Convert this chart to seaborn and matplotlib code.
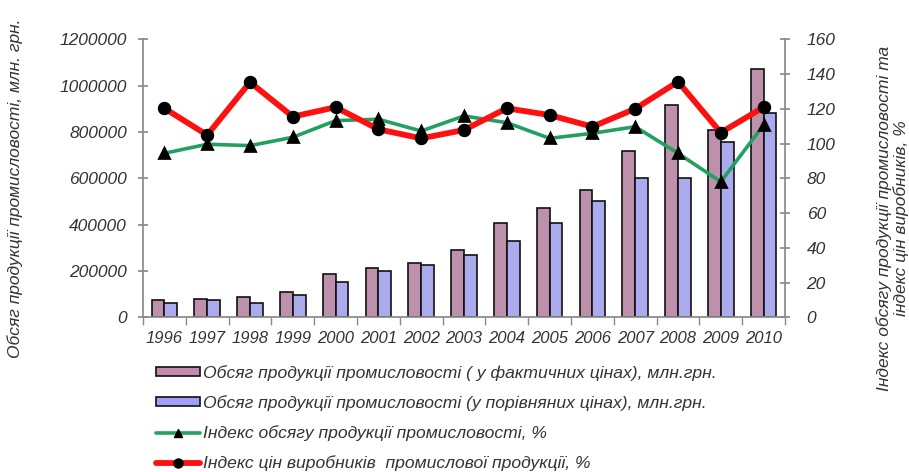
import matplotlib
matplotlib.use("Agg")
import matplotlib.pyplot as plt
import seaborn as sns
import pandas as pd
import numpy as np
from matplotlib.patches import Patch
from matplotlib.lines import Line2D

years = ["1996", "1997", "1998", "1999", "2000", "2001", "2002", "2003",
         "2004", "2005", "2006", "2007", "2008", "2009", "2010"]
output_actual = [74700, 80800, 87700, 111000, 185700, 214600, 236000, 290500,
                 405700, 470500, 549500, 718000, 916400, 808500, 1070500]
output_comparable = [63500, 74700, 63500, 96300, 154000, 200000, 226000, 267600,
                     331000, 405700, 503700, 600000, 600000, 758300, 883600]
volume_index = [94.4, 99.6, 98.8, 103.6, 113.2, 114.0, 107.2, 115.9,
                112.0, 103.0, 105.9, 109.7, 94.4, 78.0, 110.7]
price_index = [120.3, 104.9, 135.3, 115.5, 120.9, 108.2, 103.0, 107.8,
               120.3, 116.4, 109.7, 120.0, 135.6, 106.3, 120.9]

lab_actual = "Обсяг продукції промисловості ( у фактичних цінах), млн.грн."
lab_comp = "Обсяг продукції промисловості (у порівняних цінах), млн.грн."
lab_vol = "Індекс обсягу продукції промисловості, %"
lab_price = "Індекс цін виробників  промислової продукції, %"

sns.set_theme(style="white")
plt.rcParams['font.family'] = ['Liberation Sans', 'DejaVu Sans']
plt.rcParams['font.style'] = 'italic'
txt = '#333333'
axc = '#8a8a8a'
pink = "#c48aac"
blue = "#9f9ff7"
green = "#22a060"
red = "#ff1010"

bars = pd.DataFrame({
    "year": years * 2,
    "value": output_actual + output_comparable,
    "series": [lab_actual] * len(years) + [lab_comp] * len(years),
})
lines = pd.DataFrame({"year": years, "vol": volume_index, "price": price_index})

fig = plt.figure(figsize=(9.09, 4.72), dpi=100)
W, H = 909, 472
ax = fig.add_axes([143 / W, (H - 317.3) / H, (785 - 143) / W, (317.3 - 39.3) / H])

sns.barplot(data=bars, x="year", y="value", hue="series", order=years,
            hue_order=[lab_actual, lab_comp],
            palette=[pink, blue], width=0.6, gap=0,
            edgecolor="#111111", linewidth=1.2, ax=ax, legend=False)
ax.set_ylim(0, 1200000)
ax.set_xlim(-0.5, len(years) - 0.5)
ax.set_yticks(np.arange(0, 1200001, 200000))
ax.set_yticklabels([f"{v}" for v in range(0, 1200001, 200000)])
ax.set_xlabel("")
ax.set_ylabel("")

ax2 = ax.twinx()
sns.pointplot(data=lines, x="year", y="vol", order=years, color=green,
              markers="^", linewidth=2.6, markersize=6.5, ax=ax2, label=lab_vol)
sns.pointplot(data=lines, x="year", y="price", order=years, color=red,
              markers="o", linewidth=4.2, markersize=6.5, ax=ax2, label=lab_price)
for ln in ax2.lines:
    ln.set_markerfacecolor("black")
    ln.set_markeredgecolor("black")
ax2.set_ylim(0, 160)
ax2.set_yticks(np.arange(0, 161, 20))
ax2.set_xlim(-0.5, len(years) - 0.5)
ax2.set_ylabel("")
ax2.set_xlabel("")
if ax2.get_legend():
    ax2.get_legend().remove()

fig.text(15 / W, 1 - 188 / H, "Обсяг продукції промисловості, млн. грн.",
         rotation=90, ha="center", va="center", fontsize=12.5, color=txt)
fig.text(893 / W, 1 - 218 / H,
         "Індекс обсягу продукції промисловості та\nіндекс цін виробників, %",
         rotation=90, ha="center", va="center", fontsize=12.5, color=txt,
         linespacing=1.1, multialignment="center")

for a in (ax, ax2):
    for s in a.spines.values():
        s.set_visible(False)
    a.grid(False)
    a.set_facecolor("none")

ax.spines['left'].set_visible(True)
ax.spines['left'].set_color(axc)
ax.spines['bottom'].set_visible(True)
ax.spines['bottom'].set_color(axc)
ax2.spines['right'].set_visible(True)
ax2.spines['right'].set_color(axc)

ax.tick_params(axis='y', direction='inout', length=7, color=axc, labelsize=12.5,
               labelcolor=txt, pad=8, left=True)
ax2.tick_params(axis='y', direction='inout', length=7, color=axc, labelsize=12.5,
                labelcolor=txt, pad=12, right=True)
ax.tick_params(axis='x', length=0, labelsize=12, labelcolor=txt, pad=10)
ax.set_xticks(np.arange(-0.5, len(years), 1.0), minor=True)
ax.tick_params(axis='x', which='minor', direction='out', length=6, color=axc,
               bottom=True)

handles = [
    Patch(facecolor=pink, edgecolor="#111111", linewidth=1.2),
    Patch(facecolor=blue, edgecolor="#111111", linewidth=1.2),
    Line2D([], [], color=green, lw=2.6, marker="^", markersize=6,
           markerfacecolor="black", markeredgecolor="black"),
    Line2D([], [], color=red, lw=4.2, marker="o", markersize=6.5,
           markerfacecolor="black", markeredgecolor="black"),
]
fig.legend(handles, [lab_actual, lab_comp, lab_vol, lab_price],
           loc="upper left", bbox_to_anchor=(156 / W, 1 - 365 / H),
           frameon=False, fontsize=12.6, labelcolor=txt,
           handlelength=2.5, handleheight=0.4, handletextpad=0.2,
           labelspacing=0.82, borderaxespad=0, borderpad=0)

fig.savefig("out.png", dpi=100, facecolor="white")
